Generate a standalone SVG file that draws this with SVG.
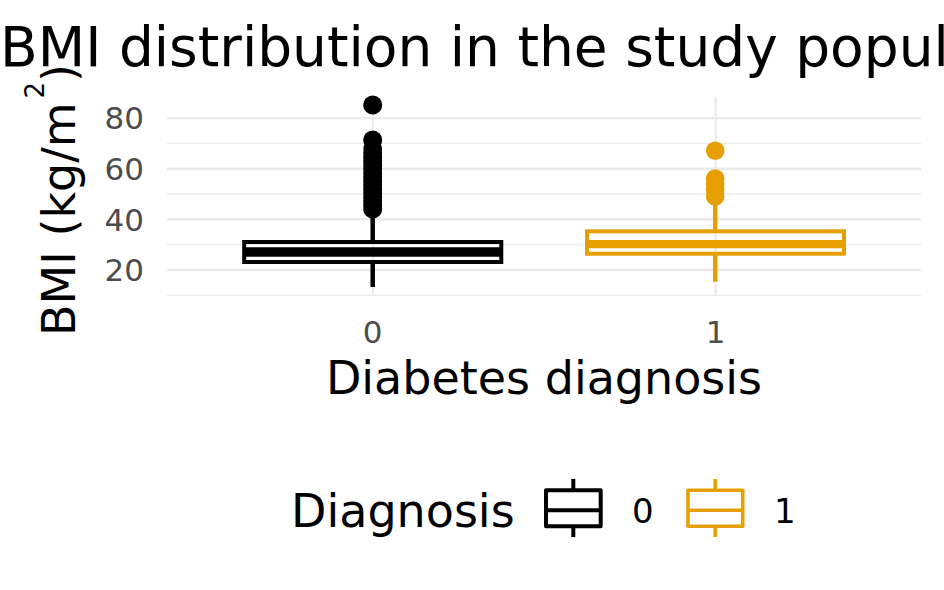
<svg xmlns="http://www.w3.org/2000/svg" width="944" height="590" viewBox="0 0 944 590">
<style>
text{font-family:"DejaVu Sans","Liberation Sans",sans-serif}
.maj{stroke:#EBEBEB;stroke-width:2.4;fill:none}
.min{stroke:#EBEBEB;stroke-width:1.3;fill:none}
.tick{fill:#4D4D4D;font-size:31px}
.k0{stroke:#000;fill:none}
.k1{stroke:#E69F00;fill:none}
.p0{fill:#000}
.p1{fill:#E69F00}
</style>
<rect width="944" height="590" fill="#fff"/>
<g id="grid">
<line class="min" x1="167" y1="295.3" x2="921" y2="295.3"/>
<line class="min" x1="167" y1="244.7" x2="921" y2="244.7"/>
<line class="min" x1="167" y1="194.0" x2="921" y2="194.0"/>
<line class="min" x1="167" y1="143.4" x2="921" y2="143.4"/>
<line class="maj" x1="167" y1="270.0" x2="921" y2="270.0"/>
<line class="maj" x1="167" y1="219.3" x2="921" y2="219.3"/>
<line class="maj" x1="167" y1="168.7" x2="921" y2="168.7"/>
<line class="maj" x1="167" y1="118.1" x2="921" y2="118.1"/>
<line class="maj" x1="373" y1="97" x2="373" y2="296"/>
<line class="maj" x1="715.5" y1="97" x2="715.5" y2="296"/>
</g>
<g id="box0">
<line class="k0" stroke-width="4.5" x1="372.7" y1="242" x2="372.7" y2="209"/>
<line class="k0" stroke-width="4.5" x1="372.7" y1="262" x2="372.7" y2="287"/>
<rect class="k0" stroke-width="4" x="244.2" y="242" width="257.1" height="20"/>
<line class="k0" stroke-width="9.5" x1="244.2" y1="252" x2="501.3" y2="252"/>
<g class="p0">
<circle cx="372.7" cy="105" r="9.5"/>
<circle cx="372.7" cy="140" r="9.5"/>
<circle cx="372.7" cy="149" r="9.3"/>
<circle cx="372.7" cy="153" r="9.5"/>
<circle cx="372.7" cy="157" r="9.5"/>
<circle cx="372.7" cy="161" r="9.5"/>
<circle cx="372.7" cy="165" r="9.5"/>
<circle cx="372.7" cy="169" r="9.5"/>
<circle cx="372.7" cy="173" r="9.5"/>
<circle cx="372.7" cy="177" r="9.5"/>
<circle cx="372.7" cy="181" r="9.5"/>
<circle cx="372.7" cy="185" r="9.5"/>
<circle cx="372.7" cy="189" r="9.5"/>
<circle cx="372.7" cy="193" r="9.5"/>
<circle cx="372.7" cy="197" r="9.5"/>
<circle cx="372.7" cy="201" r="9.5"/>
<circle cx="372.7" cy="205" r="9.5"/>
<circle cx="372.7" cy="209" r="9.5"/>
</g>
</g>
<g id="box1">
<line class="k1" stroke-width="4.5" x1="715.2" y1="231.3" x2="715.2" y2="205"/>
<line class="k1" stroke-width="4.5" x1="715.2" y1="253.7" x2="715.2" y2="281.7"/>
<rect class="k1" stroke-width="4" x="587" y="231.3" width="257" height="22.4"/>
<line class="k1" stroke-width="8.3" x1="587" y1="244.2" x2="844" y2="244.2"/>
<g class="p1">
<circle cx="715.2" cy="150.7" r="9.3"/>
<circle cx="715.2" cy="178.5" r="9.3"/>
<circle cx="715.2" cy="184" r="9.3"/>
<circle cx="715.2" cy="190" r="9.3"/>
<circle cx="715.2" cy="196.5" r="9.3"/>
</g>
</g>
<g id="axes">
<text class="tick" x="144" y="129.4" text-anchor="end">80</text>
<text class="tick" x="144" y="180.0" text-anchor="end">60</text>
<text class="tick" x="144" y="230.6" text-anchor="end">40</text>
<text class="tick" x="144" y="281.3" text-anchor="end">20</text>
<text class="tick" x="372.7" y="343" text-anchor="middle">0</text>
<text class="tick" x="715.5" y="343" text-anchor="middle">1</text>
<text x="544" y="394" font-size="46" text-anchor="middle" fill="#000">Diabetes diagnosis</text>
<text transform="translate(75,336) rotate(-90)" font-size="46" fill="#000">BMI (kg/m<tspan dx="4" dy="-31" font-size="26">2</tspan><tspan dy="31">)</tspan></text>
</g>
<g id="title">
<text x="0" y="66" font-size="55" fill="#000">BMI distribution in the study popul</text>
</g>
<g id="legend">
<text x="291" y="527" font-size="46" fill="#000">Diagnosis</text>
<line class="k0" stroke-width="4" x1="573.3" y1="479" x2="573.3" y2="490.3"/>
<line class="k0" stroke-width="4" x1="573.3" y1="526.3" x2="573.3" y2="537"/>
<rect class="k0" stroke-width="4" stroke-linejoin="round" x="546" y="490.3" width="54.7" height="36"/>
<line class="k0" stroke-width="4" x1="546" y1="510.3" x2="600.7" y2="510.3"/>
<text x="632" y="522.6" font-size="34" fill="#000">0</text>
<line class="k1" stroke-width="3.6" x1="715.2" y1="479" x2="715.2" y2="490.3"/>
<line class="k1" stroke-width="3.6" x1="715.2" y1="526.3" x2="715.2" y2="537"/>
<rect class="k1" stroke-width="3.6" stroke-linejoin="round" x="688" y="490.3" width="54.7" height="36"/>
<line class="k1" stroke-width="3.6" x1="688" y1="510.3" x2="742.7" y2="510.3"/>
<text x="774" y="522.6" font-size="34" fill="#000">1</text>
</g>
</svg>
